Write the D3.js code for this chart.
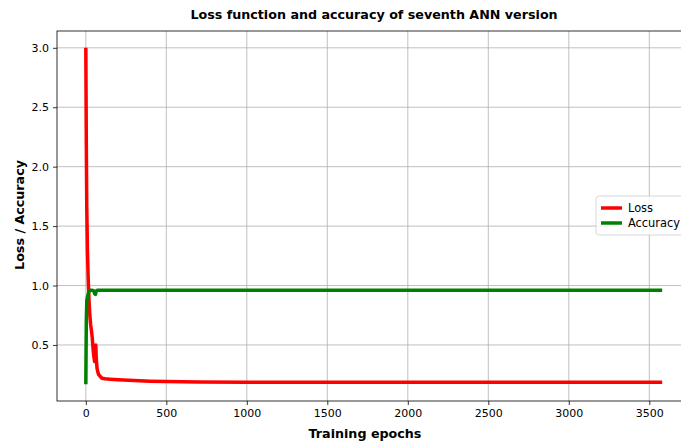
<!DOCTYPE html>
<html>
<head>
<meta charset="utf-8">
<script src="https://cdn.jsdelivr.net/npm/d3@7"></script>
<style>
  body { margin: 0; background: #fff; }
  svg { display: block; font-family: "DejaVu Sans", sans-serif; }
</style>
</head>
<body>
<svg width="681" height="441"></svg>
<script>
// values
var lossEpochs = [0, 3, 6, 10, 15, 20, 25, 30, 35, 40, 45, 50, 55, 58, 62, 65, 70, 75, 80, 90, 100, 120, 150, 200, 300, 400, 500, 700, 1000, 1500, 2000, 2500, 3000, 3580];
var lossValues = [3.0, 2.2, 1.65, 1.3, 1.05, 0.87, 0.75, 0.67, 0.62, 0.56, 0.47, 0.4, 0.36, 0.37, 0.5, 0.38, 0.3, 0.27, 0.25, 0.235, 0.22, 0.215, 0.212, 0.207, 0.2, 0.195, 0.192, 0.189, 0.187, 0.186, 0.186, 0.186, 0.186, 0.186];
var accEpochs = [0, 3, 6, 10, 15, 20, 25, 40, 50, 55, 60, 65, 70, 100, 500, 1000, 2000, 3000, 3580];
var accValues = [0.17, 0.7, 0.87, 0.9, 0.93, 0.95, 0.96, 0.96, 0.955, 0.93, 0.925, 0.955, 0.96, 0.96, 0.96, 0.96, 0.96, 0.96, 0.96];
var xTicks = [0, 500, 1000, 1500, 2000, 2500, 3000, 3500];
var yTicks = [0.5, 1.0, 1.5, 2.0, 2.5, 3.0];
var seriesNames = ["Loss", "Accuracy"];
var seriesColors = ["#ff0000", "#008000"];

(function() {
  var svg = d3.select("svg");
  var left = 57, top = 31, right = 691, bottom = 401;

  var x = d3.scaleLinear().domain([-179, 3759]).range([left, right]);
  var y = d3.scaleLinear().domain([0.0285, 3.1415]).range([bottom, top]);

  // grid
  svg.append("g").selectAll("line").data(xTicks).enter().append("line")
    .attr("x1", function(d) { return x(d); }).attr("x2", function(d) { return x(d); })
    .attr("y1", top).attr("y2", bottom)
    .style("stroke", "#b0b0b0").style("stroke-width", 0.8);
  svg.append("g").selectAll("line").data(yTicks).enter().append("line")
    .attr("x1", left).attr("x2", right)
    .attr("y1", function(d) { return y(d); }).attr("y2", function(d) { return y(d); })
    .style("stroke", "#b0b0b0").style("stroke-width", 0.8);

  // axes
  var xAxis = svg.append("g").attr("transform", "translate(0," + bottom + ")")
    .call(d3.axisBottom(x).tickValues(xTicks).tickFormat(d3.format("d")).tickSize(4).tickPadding(4));
  var yAxis = svg.append("g").attr("transform", "translate(" + left + ",0)")
    .call(d3.axisLeft(y).tickValues(yTicks).tickFormat(d3.format(".1f")).tickSize(4).tickPadding(4));
  [xAxis, yAxis].forEach(function(a) {
    a.selectAll("text").style("font-size", "11px").style("font-family", "DejaVu Sans").attr("fill", "#000");
    a.selectAll("line").style("stroke", "#000").style("stroke-width", 0.8);
    a.select(".domain").remove();
  });

  // frame
  svg.append("rect").attr("x", left).attr("y", top)
    .attr("width", right - left).attr("height", bottom - top)
    .style("fill", "none").style("stroke", "#000").style("stroke-width", 0.8);

  var line = d3.line()
    .x(function(d) { return x(d[0]); })
    .y(function(d) { return y(d[1]); });

  var lossData = lossEpochs.map(function(e, i) { return [e, lossValues[i]]; });
  var accData = accEpochs.map(function(e, i) { return [e, accValues[i]]; });

  svg.append("path").datum(lossData).attr("d", line)
    .style("fill", "none").style("stroke", seriesColors[0]).style("stroke-width", 3.5).style("stroke-linejoin", "round");
  svg.append("path").datum(accData).attr("d", line)
    .style("fill", "none").style("stroke", seriesColors[1]).style("stroke-width", 3.5).style("stroke-linejoin", "round");

  // title and labels
  svg.append("text").attr("x", 374).attr("y", 19).attr("text-anchor", "middle")
    .style("font-size", "12.7px").style("font-weight", "bold").text("Loss function and accuracy of seventh ANN version");
  svg.append("text").attr("x", 365).attr("y", 438).attr("text-anchor", "middle")
    .style("font-size", "12.7px").style("font-weight", "bold").text("Training epochs");
  svg.append("text").attr("transform", "translate(24,215) rotate(-90)").attr("text-anchor", "middle")
    .style("font-size", "12.7px").style("font-weight", "bold").text("Loss / Accuracy");

  // legend
  var legend = svg.append("g").attr("transform", "translate(596,196)");
  legend.append("rect").attr("width", 100).attr("height", 39).attr("rx", 3)
    .style("fill", "#fff").style("fill-opacity", 0.8).style("stroke", "#ccc").style("stroke-width", 0.8);
  seriesNames.forEach(function(n, i) {
    legend.append("line").attr("x1", 5).attr("x2", 26).attr("y1", 12 + i * 15).attr("y2", 12 + i * 15)
      .style("stroke", seriesColors[i]).style("stroke-width", 3.5);
    legend.append("text").attr("x", 32).attr("y", 16 + i * 15)
      .style("font-size", "11.4px").text(n);
  });
})();
</script>
</body>
</html>
